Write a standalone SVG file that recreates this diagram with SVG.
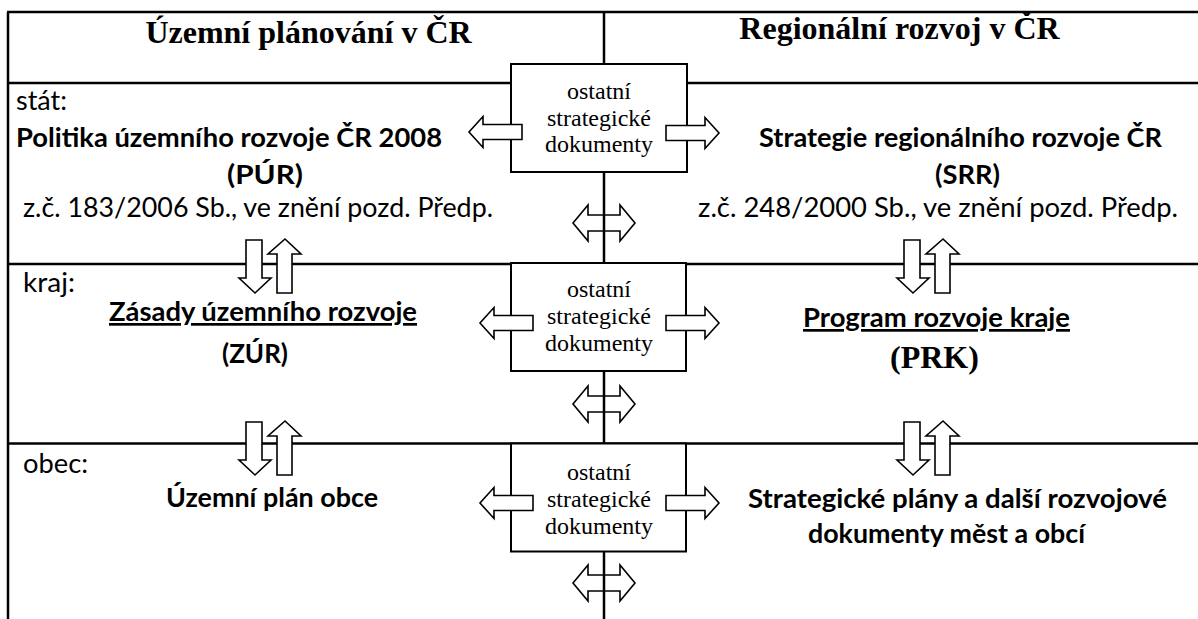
<svg xmlns="http://www.w3.org/2000/svg" width="1198" height="619" viewBox="0 0 1198 619">
<defs>
<style>
.frame{stroke:#000;stroke-width:2.5;fill:none}
.box{stroke:#000;stroke-width:2;fill:#fff}
.arr{stroke:#000;stroke-width:1.6;fill:#fff;stroke-linejoin:miter}
.darr{stroke:#000;stroke-width:1.6;fill:none}
.title{font-family:"Liberation Serif","Times New Roman",serif;font-weight:bold;font-size:32px;fill:#000}
.boxt{font-family:"Liberation Serif","Times New Roman",serif;font-size:24px;fill:#000;text-anchor:middle}
.reg{font-family:Lato,"Liberation Sans",sans-serif;font-size:27px;fill:#000}
.bold{font-family:Lato,"Liberation Sans",sans-serif;font-size:27px;font-weight:bold;fill:#000}
.ul{text-decoration:underline}
</style>
<path id="rarrow" d="M0,-7.5 L39,-7.5 L39,-15.5 L53,0 L39,15.5 L39,7.5 L0,7.5 Z"/>
<path id="larrow" d="M0,-7.5 L-39,-7.5 L-39,-15.5 L-53,0 L-39,15.5 L-39,7.5 L0,7.5 Z"/>
<path id="dblarrow" d="M-31,0 L-16,-18 L-16,-8 L16,-8 L16,-18 L31,0 L16,18 L16,8 L-16,8 L-16,18 Z"/>
<g id="pair">
<path d="M246,240 L262,240 L262,278 L271,278 L255,293 L239,278 L246,278 Z"/>
<path d="M285,239 L301,254 L292,254 L292,293 L277,293 L277,254 L268,254 Z"/>
</g>
</defs>
<rect width="1198" height="619" fill="#fff"/>
<g id="frame" class="frame">
<line x1="7" y1="12" x2="1198" y2="12"/>
<line x1="8" y1="12" x2="8" y2="619"/>
<line x1="8" y1="83" x2="1198" y2="83"/>
<line x1="8" y1="264" x2="1198" y2="264"/>
<line x1="8" y1="443.5" x2="1198" y2="443.5"/>
<line x1="604" y1="12" x2="604" y2="619"/>
</g>
<g id="header-left"><text class="title" x="308.5" y="43" text-anchor="middle">Územní plánování v ČR</text></g>
<g id="header-right"><text class="title" x="899.5" y="39" text-anchor="middle">Regionální rozvoj v ČR</text></g>
<g id="box-stat">
<rect class="box" x="511" y="64" width="176" height="108"/>
<text class="boxt" x="599" y="99">ostatní</text>
<text class="boxt" x="599" y="125.5">strategické</text>
<text class="boxt" x="599" y="152">dokumenty</text>
</g>
<g id="box-kraj">
<rect class="box" x="511" y="263" width="175" height="108"/>
<text class="boxt" x="599" y="297">ostatní</text>
<text class="boxt" x="599" y="324">strategické</text>
<text class="boxt" x="599" y="351">dokumenty</text>
</g>
<g id="box-obec">
<rect class="box" x="511" y="443.5" width="175" height="108"/>
<text class="boxt" x="599" y="480">ostatní</text>
<text class="boxt" x="599" y="507">strategické</text>
<text class="boxt" x="599" y="534">dokumenty</text>
</g>
<g id="level-stat">
<text class="reg" x="16" y="110" textLength="51" lengthAdjust="spacingAndGlyphs">stát:</text>
</g>
<g id="pur">
<text class="bold" x="16" y="147" textLength="426" lengthAdjust="spacingAndGlyphs">Politika územního rozvoje ČR 2008</text>
<text class="bold" x="227" y="184" textLength="76" lengthAdjust="spacingAndGlyphs">(PÚR)</text>
<text class="reg" x="23" y="217" textLength="470" lengthAdjust="spacingAndGlyphs">z.č. 183/2006 Sb., ve znění pozd. Předp.</text>
</g>
<g id="srr">
<text class="bold" x="759" y="147" textLength="403" lengthAdjust="spacingAndGlyphs">Strategie regionálního rozvoje ČR</text>
<text class="bold" x="935" y="184" textLength="65" lengthAdjust="spacingAndGlyphs">(SRR)</text>
<text class="reg" x="698" y="217" textLength="480" lengthAdjust="spacingAndGlyphs">z.č. 248/2000 Sb., ve znění pozd. Předp.</text>
</g>
<g id="level-kraj">
<text class="reg" x="23" y="292" textLength="52" lengthAdjust="spacingAndGlyphs">kraj:</text>
</g>
<g id="zur">
<text class="bold ul" x="109" y="321" textLength="308" lengthAdjust="spacingAndGlyphs">Zásady územního rozvoje</text>
<text class="bold" x="222" y="363" textLength="66" lengthAdjust="spacingAndGlyphs">(ZÚR)</text>
</g>
<g id="prk">
<text class="bold ul" x="803" y="327" textLength="267" lengthAdjust="spacingAndGlyphs">Program rozvoje kraje</text>
<text class="title" x="890" y="368">(PRK)</text>
</g>
<g id="level-obec">
<text class="reg" x="23" y="473" textLength="65" lengthAdjust="spacingAndGlyphs">obec:</text>
</g>
<g id="upo">
<text class="bold" x="166" y="507" textLength="212" lengthAdjust="spacingAndGlyphs">Územní plán obce</text>
</g>
<g id="sp">
<text class="bold" x="748" y="508" textLength="419" lengthAdjust="spacingAndGlyphs">Strategické plány a další rozvojové</text>
<text class="bold" x="808" y="543" textLength="277" lengthAdjust="spacingAndGlyphs">dokumenty měst a obcí</text>
</g>
<g id="connectors">
<use href="#larrow" class="arr" x="522" y="132"/>
<use href="#rarrow" class="arr" x="666" y="133"/>
<use href="#larrow" class="arr" x="533" y="323"/>
<use href="#rarrow" class="arr" x="666" y="323"/>
<use href="#larrow" class="arr" x="533" y="503"/>
<use href="#rarrow" class="arr" x="666" y="503"/>
<use href="#dblarrow" class="darr" x="604" y="223"/>
<use href="#dblarrow" class="darr" x="604" y="404"/>
<use href="#dblarrow" class="darr" x="604" y="583"/>
<use href="#pair" class="arr"/>
<use href="#pair" class="arr" x="0" y="182"/>
<use href="#pair" class="arr" x="658" y="0"/>
<use href="#pair" class="arr" x="658" y="182"/>
</g>
</svg>
